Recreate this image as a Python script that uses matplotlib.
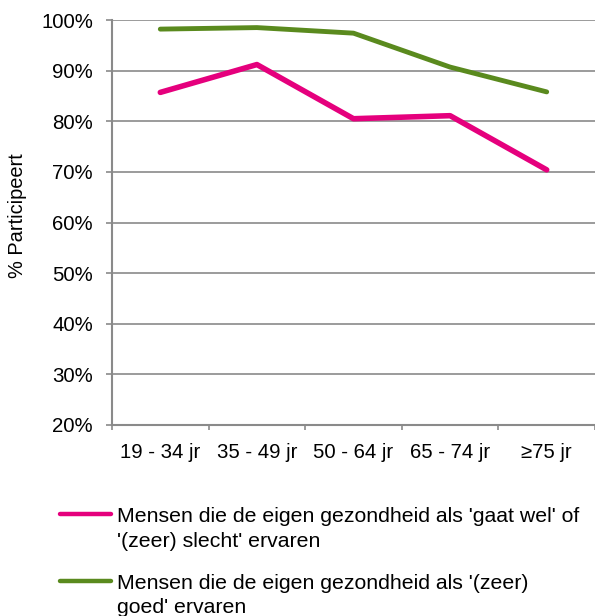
import matplotlib
matplotlib.use("Agg")
import matplotlib.pyplot as plt
from matplotlib.lines import Line2D
from matplotlib.ticker import FuncFormatter, FixedLocator

plt.rcParams['font.family'] = ['Liberation Sans', 'DejaVu Sans']

# data
categories = ['19 - 34 jr', '35 - 49 jr', '50 - 64 jr', '65 - 74 jr', '\u226575 jr']
slecht = [85.7, 91.2, 80.5, 81.1, 70.4]
goed = [98.2, 98.5, 97.4, 90.7, 85.8]
legend_lines = [
    ["Mensen die de eigen gezondheid als 'gaat wel' of", "'(zeer) slecht' ervaren"],
    ["Mensen die de eigen gezondheid als '(zeer)", "goed' ervaren"],
]

pink = '#E5007D'
green = '#5A8A1E'
grey = '#8A8A8A'
W, H = 595, 616
fs = 14.7


def fx(px):
    return px / W


def fy(py):
    return 1 - py / H


fig = plt.figure(figsize=(W / 100, H / 100), dpi=100)
ax = fig.add_axes([fx(112), fy(425), fx(595 - 112), (425 - 20) / H])

x = list(range(len(categories)))
ax.plot(x, slecht, color=pink, linewidth=4.0, solid_capstyle='round', solid_joinstyle='round')
ax.plot(x, goed, color=green, linewidth=3.5, solid_capstyle='round', solid_joinstyle='round')

ax.set_xlim(-0.5, len(categories) - 0.5)
ax.set_ylim(20, 100)
ax.set_yticks(range(20, 101, 10))
ax.yaxis.set_major_formatter(FuncFormatter(lambda v, p: '%d%%' % v))
ax.yaxis.grid(True, color=grey, linewidth=1.2)
ax.set_axisbelow(True)

# category labels sit between the boundary ticks
ax.xaxis.set_major_locator(FixedLocator([i - 0.5 for i in range(len(categories) + 1)]))
ax.xaxis.set_major_formatter(FuncFormatter(lambda v, p: ''))
ax.xaxis.set_minor_locator(FixedLocator(x))
ax.set_xticklabels(categories, minor=True)
ax.tick_params(axis='x', which='minor', length=0, pad=13, labelsize=fs)
ax.tick_params(axis='x', which='major', length=3.8, width=1.2, color=grey, direction='out')
ax.tick_params(axis='y', length=4.3, width=1.2, color=grey, direction='out', labelsize=fs, pad=9.4)

for s in ['top', 'right']:
    ax.spines[s].set_visible(False)
for s in ['left', 'bottom']:
    ax.spines[s].set_color(grey)
    ax.spines[s].set_linewidth(1.5)

fig.text(fx(17.5), fy(216), '% Participeert', rotation=90, ha='center', va='center', fontsize=14.4)

# legend, drawn by hand so the key sits on the first text line
handle_y = [514, 581]
baselines = [[522, 547], [589, 613]]
for colour, hy, lines, bls in zip([pink, green], handle_y, legend_lines, baselines):
    fig.add_artist(Line2D([fx(60), fx(111)], [fy(hy), fy(hy)], transform=fig.transFigure,
                          color=colour, linewidth=3.2, solid_capstyle='round'))
    for txt, bl in zip(lines, bls):
        fig.text(fx(117), fy(bl), txt, ha='left', va='baseline', fontsize=15.3)

fig.savefig('out.png', dpi=100)
